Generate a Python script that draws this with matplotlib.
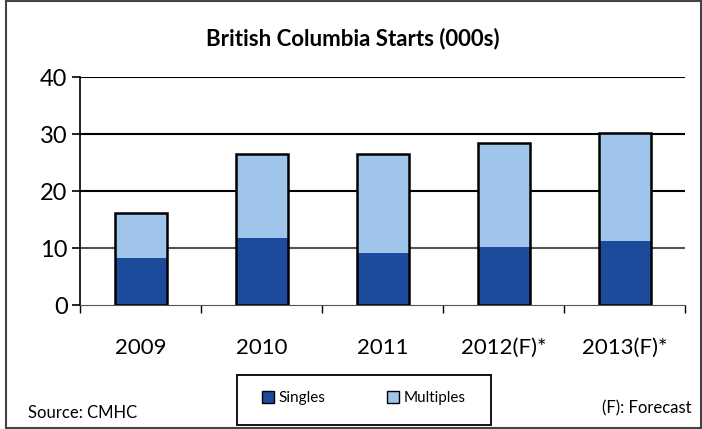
import matplotlib.pyplot as plt
import matplotlib.patches as mpatches
import numpy as np

years = ['2009', '2010', '2011', '2012(F)*', '2013(F)*']
singles = [8.2, 11.8, 9.2, 10.2, 11.2]
multiples = [8.0, 14.7, 17.3, 18.3, 19.0]
yticks = [0, 10, 20, 30, 40]

dark = '#1d4b9b'
light = '#9fc5ea'
plt.rcParams['font.family'] = ['Lato', 'DejaVu Sans']

fig = plt.figure(figsize=(7.02, 4.29), dpi=100)
ax = fig.add_axes([0.114, 0.289, 0.862, 0.531])

x = np.arange(len(years))
w = 0.43
ax.bar(x, singles, w, color=dark, edgecolor='none', zorder=3)
ax.bar(x, multiples, w, bottom=singles, color=light, edgecolor='none', zorder=3)
tot = np.array(singles) + np.array(multiples)
# black outline round each stacked bar
ax.bar(x, tot, w, color='none', edgecolor='black', linewidth=1.8, zorder=4)

ax.set_xlim(-0.5, len(years) - 0.5)
ax.set_ylim(0, 40)
ax.set_yticks(yticks)
ax.tick_params(axis='y', labelsize=17, length=6, width=1.2, pad=3)
for yv, c in zip(yticks[1:], ['#555555', 'black', 'black', 'black']):
    ax.axhline(yv, color=c, lw=1.5, zorder=1)
ax.set_xticks(x)
ax.set_xticklabels(years, fontsize=16)
ax.tick_params(axis='x', length=0, pad=24)
ax.set_xticks(np.arange(len(years) + 1) - 0.5, minor=True)
ax.tick_params(axis='x', which='minor', length=6, width=1)
for s in ['top', 'right']:
    ax.spines[s].set_visible(False)
ax.spines['left'].set_linewidth(1.2)
ax.spines['bottom'].set_color('#555555')

fig.text(0.502, 0.91, 'British Columbia Starts (000s)', ha='center', va='center',
         fontsize=16, fontweight='bold')

# legend box drawn by hand, legend entries inside it
fig.patches.append(mpatches.Rectangle((0.338, 0.01), 0.361, 0.115, transform=fig.transFigure,
                                      fill=False, edgecolor='black', lw=1.3))
handles = [mpatches.Patch(facecolor=dark, edgecolor='black', label='Singles'),
           mpatches.Patch(facecolor=light, edgecolor='black', label='Multiples')]
fig.legend(handles=handles, loc='center', bbox_to_anchor=(0.518, 0.072),
           ncol=2, fontsize=11, frameon=False,
           handlelength=0.8, handleheight=0.8, columnspacing=4.0,
           handletextpad=0.3)

fig.text(0.04, 0.037, 'Source: CMHC', fontsize=12, va='center')
fig.text(0.985, 0.049, '(F): Forecast', fontsize=12, va='center', ha='right')

# outer frame
fig.patches.append(mpatches.Rectangle((0.008, 0.003), 0.99, 0.994, transform=fig.transFigure,
                                      fill=False, edgecolor='#444444', lw=1.5))

fig.savefig('out.png', dpi=100)
